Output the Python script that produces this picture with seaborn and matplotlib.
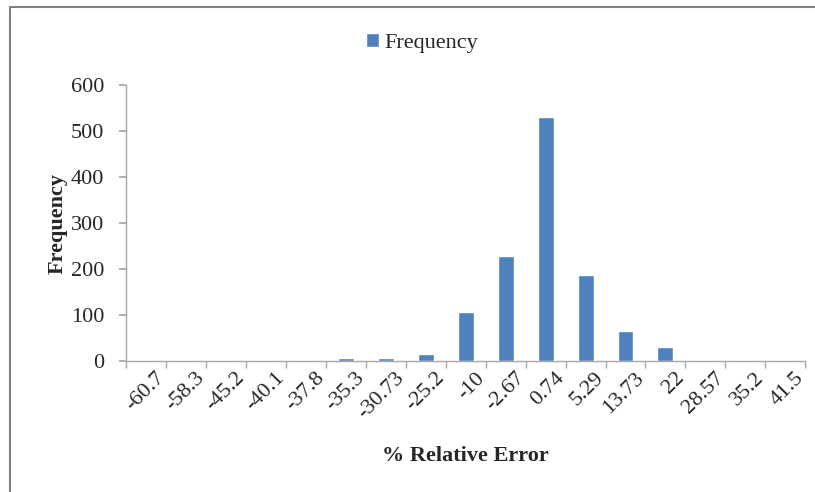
import matplotlib
matplotlib.use("Agg")
import matplotlib.pyplot as plt
import matplotlib.transforms as mtransforms
import seaborn as sns
import pandas as pd
from matplotlib.lines import Line2D

# bins of % relative error and their counts
categories = ["-60.7", "-58.3", "-45.2", "-40.1", "-37.8", "-35.3", "-30.73", "-25.2",
              "-10", "-2.67", "0.74", "5.29", "13.73", "22", "28.57", "35.2", "41.5"]
frequency = [0, 0, 0, 0, 0, 6, 6, 15, 106, 228, 531, 187, 65, 30, 0, 0, 0]

df = pd.DataFrame({"error": categories, "Frequency": frequency})

sns.set_theme(style="white")
plt.rcParams["font.family"] = ["Liberation Serif", "DejaVu Serif"]

blue = "#4f81bd"
axis_grey = "#a6a6a6"

fig = plt.figure(figsize=(8.15, 4.92), dpi=100)
ax = fig.add_axes([0.155, 0.266, 0.833, 0.561])

sns.barplot(data=df, x="error", y="Frequency", color=blue, width=0.4,
            saturation=1, ax=ax, label="Frequency", zorder=3)

ax.set_xlim(-0.5, len(categories) - 0.5)
ax.set_ylim(0, 600)
ax.set_yticks(range(0, 601, 100))
ax.tick_params(axis="y", labelsize=16, length=5, color=axis_grey, direction="out",
               left=True, pad=11)
ax.tick_params(axis="x", labelsize=16, length=0, pad=4)
ax.set_xticks(range(len(categories)))
ax.set_xticklabels(categories, rotation=45, ha="right", rotation_mode="anchor")
shift = mtransforms.ScaledTranslation(9 / 100, -2 / 100, fig.dpi_scale_trans)
for lbl in ax.get_xticklabels():
    lbl.set_transform(lbl.get_transform() + shift)
# tick marks between categories, Excel style
ax.set_xticks([i - 0.5 for i in range(len(categories) + 1)], minor=True)
ax.tick_params(axis="x", which="minor", length=5, color=axis_grey, direction="out",
               bottom=True)

for side in ["top", "right"]:
    ax.spines[side].set_visible(False)
for side in ["left", "bottom"]:
    ax.spines[side].set_color(axis_grey)
    ax.spines[side].set_linewidth(1.0)

ax.set_xlabel("% Relative Error", fontsize=16, fontweight="bold", labelpad=17)
ax.set_ylabel("Frequency", fontsize=16, fontweight="bold", labelpad=2)

ax.legend(loc="upper center", bbox_to_anchor=(0.518, 1.0), bbox_transform=fig.transFigure,
          frameon=False, fontsize=16, handlelength=0.6, handleheight=0.6,
          handletextpad=0.25, borderaxespad=1.1)

# chart area border (left and top visible)
fig.add_artist(Line2D([10 / 815, 10 / 815], [0, 1 - 7 / 492], transform=fig.transFigure,
                      color="#808080", linewidth=1.5))
fig.add_artist(Line2D([10 / 815, 1], [1 - 7 / 492, 1 - 7 / 492], transform=fig.transFigure,
                      color="#808080", linewidth=1.5))

fig.savefig("out.png", dpi=100)
